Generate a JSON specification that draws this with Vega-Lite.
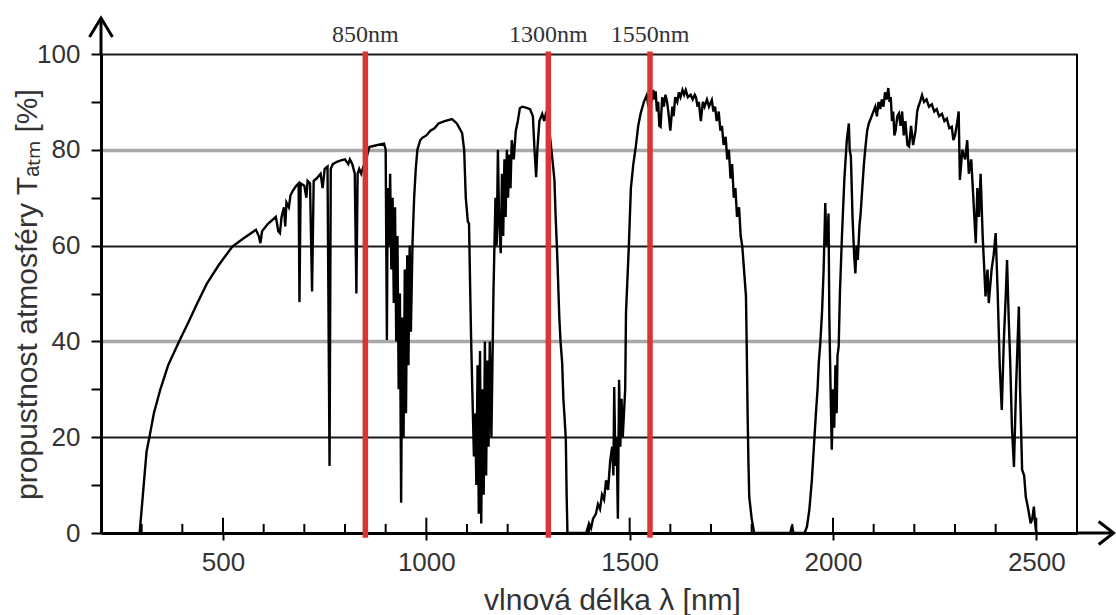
{
  "$schema": "https://vega.github.io/schema/vega-lite/v6.json",
  "width": 976,
  "height": 479,
  "autosize": {"type": "none"},
  "padding": {"left": 101, "top": 54, "right": 39, "bottom": 82},
  "background": "white",
  "config": {"view": {"stroke": null}, "font": "Liberation Sans"},
  "datasets": {
    "curve": [
      {"nm":295,"T":0},{"nm":305,"T":10},{"nm":312,"T":17},{"nm":319,"T":20},{"nm":330,"T":25},{"nm":346,"T":30},{"nm":365,"T":35},{"nm":392,"T":40},{"nm":415,"T":44},{"nm":437,"T":48},{"nm":460,"T":52},{"nm":490,"T":56},{"nm":523,"T":59.8},{"nm":550,"T":61.5},{"nm":581,"T":63.3},{"nm":588,"T":62},{"nm":592,"T":60.5},{"nm":596,"T":63},{"nm":610,"T":64.5},{"nm":622,"T":65.4},{"nm":630,"T":66},{"nm":636,"T":63},{"nm":640,"T":62.6},{"nm":644,"T":66},{"nm":650,"T":68},{"nm":653,"T":64},{"nm":656,"T":69},{"nm":662,"T":68},{"nm":666,"T":70.5},{"nm":672,"T":71.5},{"nm":680,"T":72.5},{"nm":686,"T":73},{"nm":688,"T":48.2},{"nm":691,"T":73},{"nm":700,"T":72.5},{"nm":705,"T":70},{"nm":708,"T":73.5},{"nm":714,"T":73},{"nm":719,"T":50.4},{"nm":723,"T":73.5},{"nm":730,"T":74},{"nm":740,"T":75},{"nm":745,"T":72},{"nm":750,"T":76},{"nm":757,"T":76.5},{"nm":762,"T":14},{"nm":765,"T":76},{"nm":770,"T":77},{"nm":780,"T":77.5},{"nm":790,"T":77.8},{"nm":800,"T":78},{"nm":808,"T":77},{"nm":812,"T":78},{"nm":818,"T":77},{"nm":824,"T":75},{"nm":828,"T":50},{"nm":831,"T":75},{"nm":835,"T":76},{"nm":840,"T":75},{"nm":845,"T":76.5},{"nm":850,"T":77},{"nm":855,"T":79},{"nm":860,"T":80.6},{"nm":870,"T":80.8},{"nm":880,"T":81},{"nm":896,"T":81.3},{"nm":900,"T":80},{"nm":903,"T":40.3},{"nm":905,"T":72},{"nm":908,"T":60},{"nm":911,"T":75},{"nm":914,"T":55},{"nm":917,"T":70},{"nm":920,"T":48},{"nm":923,"T":68},{"nm":926,"T":40},{"nm":929,"T":62},{"nm":932,"T":30},{"nm":935,"T":50},{"nm":938,"T":6.3},{"nm":941,"T":45},{"nm":944,"T":20},{"nm":947,"T":55},{"nm":950,"T":25},{"nm":953,"T":58},{"nm":956,"T":35},{"nm":959,"T":60},{"nm":962,"T":42},{"nm":966,"T":60.5},{"nm":970,"T":70},{"nm":974,"T":76},{"nm":978,"T":80},{"nm":985,"T":82},{"nm":990,"T":82.5},{"nm":1000,"T":83},{"nm":1010,"T":84},{"nm":1020,"T":84.5},{"nm":1030,"T":85.5},{"nm":1045,"T":86},{"nm":1063,"T":86.4},{"nm":1075,"T":85.5},{"nm":1088,"T":83.5},{"nm":1093,"T":80},{"nm":1097,"T":70},{"nm":1102,"T":65},{"nm":1105,"T":64.6},{"nm":1108,"T":50},{"nm":1110,"T":41},{"nm":1113,"T":30},{"nm":1117,"T":16},{"nm":1120,"T":25},{"nm":1123,"T":10},{"nm":1126,"T":35},{"nm":1129,"T":4},{"nm":1132,"T":38},{"nm":1135,"T":2},{"nm":1138,"T":30},{"nm":1141,"T":8},{"nm":1144,"T":40},{"nm":1147,"T":12},{"nm":1150,"T":36},{"nm":1153,"T":18},{"nm":1156,"T":40},{"nm":1160,"T":20},{"nm":1165,"T":50},{"nm":1170,"T":70},{"nm":1173,"T":60},{"nm":1176,"T":80},{"nm":1179,"T":65},{"nm":1183,"T":58.4},{"nm":1186,"T":75},{"nm":1189,"T":62},{"nm":1192,"T":78},{"nm":1195,"T":66},{"nm":1198,"T":80},{"nm":1201,"T":70},{"nm":1204,"T":79},{"nm":1207,"T":72},{"nm":1210,"T":82},{"nm":1215,"T":78},{"nm":1220,"T":84},{"nm":1225,"T":86},{"nm":1230,"T":88.7},{"nm":1236,"T":89},{"nm":1245,"T":88.8},{"nm":1255,"T":88.5},{"nm":1262,"T":87},{"nm":1266,"T":80},{"nm":1270,"T":74.3},{"nm":1273,"T":80},{"nm":1278,"T":86},{"nm":1285,"T":87.5},{"nm":1290,"T":86},{"nm":1295,"T":88},{"nm":1300,"T":86},{"nm":1305,"T":82},{"nm":1310,"T":78},{"nm":1315,"T":73.7},{"nm":1318,"T":66},{"nm":1322,"T":57.7},{"nm":1325,"T":50},{"nm":1327,"T":45},{"nm":1330,"T":40},{"nm":1334,"T":35.5},{"nm":1337,"T":28},{"nm":1340,"T":24},{"nm":1343,"T":19.5},{"nm":1345,"T":8},{"nm":1347,"T":0},{"nm":1393,"T":0},{"nm":1400,"T":2},{"nm":1405,"T":1},{"nm":1410,"T":3},{"nm":1417,"T":4},{"nm":1422,"T":6},{"nm":1427,"T":5},{"nm":1432,"T":8},{"nm":1437,"T":7},{"nm":1442,"T":11},{"nm":1447,"T":9},{"nm":1452,"T":15},{"nm":1457,"T":18},{"nm":1460,"T":12},{"nm":1462,"T":30.5},{"nm":1465,"T":14},{"nm":1468,"T":20},{"nm":1471,"T":3},{"nm":1474,"T":32},{"nm":1477,"T":18},{"nm":1480,"T":28},{"nm":1483,"T":20},{"nm":1486,"T":25},{"nm":1489,"T":30},{"nm":1491,"T":46},{"nm":1494,"T":52},{"nm":1498,"T":60},{"nm":1503,"T":72},{"nm":1509,"T":77},{"nm":1515,"T":80.6},{"nm":1521,"T":85},{"nm":1527,"T":87.6},{"nm":1535,"T":90},{"nm":1542,"T":91.4},{"nm":1546,"T":89},{"nm":1550,"T":92},{"nm":1554,"T":90},{"nm":1558,"T":92.5},{"nm":1561,"T":90.5},{"nm":1564,"T":92.2},{"nm":1567,"T":88},{"nm":1570,"T":90},{"nm":1573,"T":85},{"nm":1576,"T":84.8},{"nm":1580,"T":91},{"nm":1584,"T":89},{"nm":1588,"T":91.5},{"nm":1592,"T":90},{"nm":1595,"T":88},{"nm":1600,"T":84},{"nm":1605,"T":89},{"nm":1608,"T":87},{"nm":1612,"T":91},{"nm":1617,"T":90},{"nm":1621,"T":92},{"nm":1625,"T":91},{"nm":1630,"T":92.5},{"nm":1634,"T":91.5},{"nm":1638,"T":92.5},{"nm":1643,"T":91},{"nm":1650,"T":91.5},{"nm":1655,"T":90.5},{"nm":1660,"T":91.5},{"nm":1663,"T":91},{"nm":1667,"T":89},{"nm":1670,"T":90},{"nm":1675,"T":86},{"nm":1680,"T":90},{"nm":1684,"T":89},{"nm":1690,"T":90.5},{"nm":1695,"T":89},{"nm":1702,"T":90.4},{"nm":1706,"T":88},{"nm":1710,"T":89},{"nm":1714,"T":86},{"nm":1719,"T":88},{"nm":1723,"T":84},{"nm":1727,"T":85},{"nm":1731,"T":81},{"nm":1736,"T":82.7},{"nm":1740,"T":78},{"nm":1744,"T":80},{"nm":1748,"T":74},{"nm":1752,"T":77},{"nm":1756,"T":70},{"nm":1760,"T":72},{"nm":1764,"T":66},{"nm":1769,"T":68},{"nm":1773,"T":62},{"nm":1777,"T":59.8},{"nm":1786,"T":49.4},{"nm":1788,"T":38},{"nm":1790,"T":25},{"nm":1792,"T":15},{"nm":1794,"T":7.6},{"nm":1800,"T":3},{"nm":1806,"T":0},{"nm":1895,"T":0},{"nm":1899,"T":1.5},{"nm":1903,"T":0},{"nm":1930,"T":0},{"nm":1936,"T":1.3},{"nm":1942,"T":5},{"nm":1948,"T":11},{"nm":1953,"T":18},{"nm":1958,"T":25},{"nm":1962,"T":30},{"nm":1965,"T":35.5},{"nm":1969,"T":40},{"nm":1973,"T":46},{"nm":1977,"T":55},{"nm":1981,"T":68.9},{"nm":1984,"T":60},{"nm":1987,"T":62},{"nm":1989,"T":66.7},{"nm":1991,"T":45},{"nm":1994,"T":30},{"nm":1997,"T":17.4},{"nm":2000,"T":30},{"nm":2003,"T":22},{"nm":2006,"T":35},{"nm":2009,"T":25},{"nm":2011,"T":37},{"nm":2014,"T":39},{"nm":2017,"T":50},{"nm":2022,"T":62},{"nm":2028,"T":74},{"nm":2034,"T":82},{"nm":2039,"T":85.5},{"nm":2041,"T":80},{"nm":2044,"T":78.6},{"nm":2048,"T":66},{"nm":2052,"T":58},{"nm":2055,"T":54.2},{"nm":2058,"T":60},{"nm":2061,"T":57},{"nm":2065,"T":64},{"nm":2068,"T":66.7},{"nm":2072,"T":72},{"nm":2076,"T":77},{"nm":2080,"T":80.7},{"nm":2084,"T":84},{"nm":2088,"T":85.5},{"nm":2095,"T":87},{"nm":2104,"T":89},{"nm":2108,"T":87},{"nm":2112,"T":90},{"nm":2116,"T":88.5},{"nm":2120,"T":90.5},{"nm":2124,"T":89},{"nm":2128,"T":92},{"nm":2132,"T":90.5},{"nm":2136,"T":92.9},{"nm":2139,"T":90},{"nm":2142,"T":91},{"nm":2145,"T":86},{"nm":2148,"T":88},{"nm":2151,"T":83},{"nm":2154,"T":84},{"nm":2158,"T":87},{"nm":2162,"T":87.6},{"nm":2166,"T":85},{"nm":2170,"T":88},{"nm":2174,"T":83},{"nm":2178,"T":86},{"nm":2183,"T":81},{"nm":2187,"T":80.7},{"nm":2192,"T":85},{"nm":2197,"T":81},{"nm":2203,"T":84},{"nm":2207,"T":88},{"nm":2210,"T":89},{"nm":2214,"T":90},{"nm":2219,"T":91.4},{"nm":2224,"T":90},{"nm":2230,"T":90.5},{"nm":2236,"T":89},{"nm":2243,"T":89.5},{"nm":2249,"T":88},{"nm":2255,"T":88.5},{"nm":2261,"T":87},{"nm":2268,"T":87.5},{"nm":2274,"T":86},{"nm":2280,"T":86.5},{"nm":2286,"T":84.5},{"nm":2292,"T":84.8},{"nm":2296,"T":82},{"nm":2300,"T":83},{"nm":2306,"T":86},{"nm":2309,"T":88},{"nm":2312,"T":73.7},{"nm":2318,"T":80},{"nm":2325,"T":78},{"nm":2330,"T":82},{"nm":2334,"T":75},{"nm":2340,"T":78},{"nm":2345,"T":70},{"nm":2351,"T":60.5},{"nm":2355,"T":72},{"nm":2359,"T":66},{"nm":2363,"T":75},{"nm":2368,"T":62},{"nm":2372,"T":55},{"nm":2375,"T":49.4},{"nm":2380,"T":55},{"nm":2383,"T":48},{"nm":2390,"T":55},{"nm":2395,"T":58},{"nm":2400,"T":62.6},{"nm":2405,"T":50},{"nm":2410,"T":35},{"nm":2415,"T":25.7},{"nm":2420,"T":40},{"nm":2425,"T":50},{"nm":2428,"T":57},{"nm":2432,"T":45},{"nm":2436,"T":35},{"nm":2440,"T":22},{"nm":2445,"T":13.8},{"nm":2450,"T":30},{"nm":2454,"T":40},{"nm":2457,"T":47.3},{"nm":2460,"T":30},{"nm":2465,"T":13.2},{"nm":2470,"T":12},{"nm":2474,"T":7.6},{"nm":2480,"T":5},{"nm":2486,"T":2},{"nm":2490,"T":3},{"nm":2494,"T":5.5},{"nm":2497,"T":2},{"nm":2500,"T":0}
    ],
    "lines": [
      {"nm": 850, "label": "850nm"},
      {"nm": 1300, "label": "1300nm"},
      {"nm": 1550, "label": "1550nm"}
    ],
    "majorTicks": [{"nm": 500}, {"nm": 1000}, {"nm": 1500}, {"nm": 2000}, {"nm": 2500}],
    "minorTicks": [{"nm": 300}, {"nm": 400}, {"nm": 600}, {"nm": 700}, {"nm": 800}, {"nm": 900}, {"nm": 1100}, {"nm": 1200}, {"nm": 1300}, {"nm": 1400}, {"nm": 1600}, {"nm": 1700}, {"nm": 1800}, {"nm": 1900}, {"nm": 2100}, {"nm": 2200}, {"nm": 2300}, {"nm": 2400}]
  },
  "layer": [
    {
      "data": {"name": "curve"},
      "mark": {"type": "line", "color": "black", "strokeWidth": 2.4},
      "encoding": {
        "x": {
          "field": "nm", "type": "quantitative",
          "scale": {"domain": [200, 2600], "nice": false, "zero": false},
          "axis": {
            "values": [500, 1000, 1500, 2000, 2500],
            "format": "d",
            "title": "vlnová délka λ [nm]",
            "grid": false,
            "domainColor": "black", "domainWidth": 3,
            "tickColor": "black", "tickWidth": 2, "tickSize": 7,
            "labelFont": "Liberation Sans", "labelFontSize": 26, "labelColor": "#333", "labelPadding": 9,
            "labelFlush": false, "labelOverlap": false,
            "titleFont": "Liberation Sans", "titleFontSize": 30, "titleFontWeight": "normal", "titleColor": "#333",
            "titleX": 511, "titleY": 76, "titleBaseline": "alphabetic", "titleAlign": "center"
          }
        },
        "y": {
          "field": "T", "type": "quantitative",
          "scale": {"domain": [0, 100], "nice": false, "zero": false},
          "axis": {
            "values": [0, 10, 20, 30, 40, 50, 60, 70, 80, 90, 100],
            "format": "d",
            "labelExpr": "datum.value % 20 == 0 ? datum.label : ''",
            "grid": true,
            "gridColor": {"condition": {"test": "datum.value == 40 || datum.value == 80", "value": "#a8a8a8"}, "value": "#1a1a1a"},
            "gridWidth": {"condition": {"test": "datum.value == 40 || datum.value == 80", "value": 3.5}, "value": 2.2},
            "gridOpacity": {"condition": {"test": "datum.value % 20 != 0 || datum.value == 0", "value": 0}, "value": 1},
            "domainColor": "black", "domainWidth": 3,
            "tickColor": "black", "tickWidth": 2, "tickSize": 10,
            "labelFont": "Liberation Sans", "labelFontSize": 26, "labelColor": "#333", "labelPadding": 11,
            "labelFlush": false, "labelOverlap": false,
            "title": "propustnost atmosféry Tₐₜₘ [%]",
            "titleFont": "Liberation Sans", "titleFontSize": 30, "titleFontWeight": "normal", "titleColor": "#333",
            "titleX": -59, "titleY": 240, "titleAngle": -90, "titleBaseline": "bottom", "titleAlign": "center"
          }
        }
      }
    },
    {
      "data": {"name": "majorTicks"},
      "mark": {"type": "rule", "color": "black", "strokeWidth": 2},
      "encoding": {
        "x": {"field": "nm", "type": "quantitative"},
        "y": {"datum": 0, "type": "quantitative"},
        "y2": {"datum": 3.2}
      }
    },
    {
      "data": {"name": "minorTicks"},
      "mark": {"type": "rule", "color": "black", "strokeWidth": 2},
      "encoding": {
        "x": {"field": "nm", "type": "quantitative"},
        "y": {"datum": 0, "type": "quantitative"},
        "y2": {"datum": 1.9}
      }
    },
    {
      "data": {"values": [{}]},
      "mark": {"type": "rule", "color": "black", "strokeWidth": 2},
      "encoding": {
        "x": {"datum": 2600, "type": "quantitative"},
        "y": {"datum": 0, "type": "quantitative"},
        "y2": {"datum": 100}
      }
    },
    {
      "data": {"values": [{}]},
      "mark": {"type": "rule", "color": "black", "strokeWidth": 3},
      "encoding": {
        "x": {"datum": 200, "type": "quantitative"},
        "y": {"datum": 100, "type": "quantitative"},
        "y2": {"datum": 107.5}
      }
    },
    {
      "data": {"values": [{}]},
      "mark": {"type": "rule", "color": "black", "strokeWidth": 3},
      "encoding": {
        "x": {"datum": 2600, "type": "quantitative"},
        "x2": {"datum": 2690},
        "y": {"datum": 0, "type": "quantitative"}
      }
    },
    {
      "data": {"values": [{}]},
      "mark": {"type": "point", "shape": "M-1,1.65L0,0L1,1.65", "size": 529, "filled": false, "stroke": "black", "strokeWidth": 3, "opacity": 1},
      "encoding": {
        "x": {"datum": 200, "type": "quantitative"},
        "y": {"datum": 107.5, "type": "quantitative"}
      }
    },
    {
      "data": {"values": [{}]},
      "mark": {"type": "point", "shape": "M-1.3,-1L0,0L-1.3,1", "size": 529, "filled": false, "stroke": "black", "strokeWidth": 3, "opacity": 1},
      "encoding": {
        "x": {"datum": 2690, "type": "quantitative"},
        "y": {"datum": 0, "type": "quantitative"}
      }
    },
    {
      "data": {"name": "lines"},
      "mark": {"type": "rule", "color": "#db3434", "strokeWidth": 5.5},
      "encoding": {
        "x": {"field": "nm", "type": "quantitative"},
        "y": {"datum": 100.5, "type": "quantitative"},
        "y2": {"datum": -1}
      }
    },
    {
      "data": {"name": "lines"},
      "mark": {"type": "text", "font": "Liberation Serif", "fontSize": 24, "color": "#333", "align": "center", "baseline": "alphabetic"},
      "encoding": {
        "x": {"field": "nm", "type": "quantitative"},
        "y": {"datum": 102.5, "type": "quantitative"},
        "text": {"field": "label"}
      }
    }
  ]
}
